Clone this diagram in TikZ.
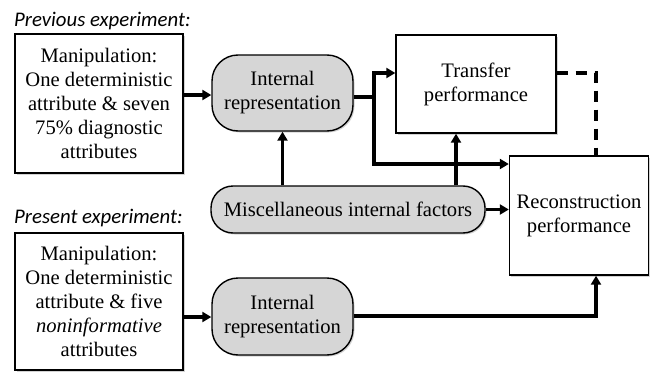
\documentclass[tikz,border=0pt]{standalone}
\usepackage{fontspec}
\setmainfont{Liberation Serif}
\newfontfamily\tms{Liberation Serif}
\newfontfamily\calibri{Carlito}
\usetikzlibrary{arrows.meta,shadows}
\begin{document}
\begin{tikzpicture}[x=1pt,y=-1pt,
  every node/.style={font=\tms\fontsize{20.6}{24}\selectfont, align=center, inner sep=0pt},
  shad/.style={drop shadow={opacity=0.35,shadow xshift=1.5pt,shadow yshift=-1.5pt}},
  sqbox/.style={draw, line width=1.4pt, fill=white, shad},
  rbox/.style={draw, line width=1.4pt, fill=black!16, shad},
  conn/.style={line width=3.2pt, -{Triangle[length=9pt,width=10pt]}},
  lab/.style={font=\calibri\itshape\fontsize{20.8}{24}\selectfont, anchor=base west}]
\useasboundingbox (0,0) rectangle (651,372);

\node[lab] (prevlab) at (14,26) {Previous experiment:};
\node[lab] (preslab) at (14,223) {Present experiment:};

\node[sqbox, minimum width=168pt, minimum height=139pt] (m1) at (99,103.5)
  {Manipulation:\\One deterministic\\attribute \& seven\\75\% diagnostic\\attributes};
\node[rbox, rounded corners=26pt, minimum width=141pt, minimum height=76pt] (ir1) at (282.5,93)
  {Internal\\representation};
\node[sqbox, minimum width=160pt, minimum height=98pt] (tp) at (476,84)
  {Transfer\\performance};
\node[sqbox, minimum width=139pt, minimum height=119pt] (rp) at (579,215.5)
  {Reconstruction\\performance};
\node[rbox, rounded corners=22pt, minimum width=274pt, minimum height=47pt] (misc) at (348,209.5)
  {Miscellaneous internal factors};
\node[sqbox, minimum width=168pt, minimum height=137pt] (m2) at (99,301.5)
  {Manipulation:\\One deterministic\\attribute \& five\\\textit{noninformative}\\attributes};
\node[rbox, rounded corners=26pt, minimum width=141pt, minimum height=77pt] (ir2) at (282.5,316.5)
  {Internal\\representation};

\coordinate (j) at (374,97);
\draw[conn] (m1.east |- 0,95) -- (ir1.west |- 0,95);
\draw[line width=3.2pt] (ir1.east |- j) -- (j);
\draw[conn] (j) -- (374,73) -- (tp.west |- 0,73);
\draw[conn] (j) -- (374,164) -- (rp.west |- 0,164);
\draw[line width=3.2pt, dash pattern=on 11pt off 8pt] (tp.east |- 0,73) -- (596,73) -- (596,0 |- rp.north);
\draw[conn] (misc.north -| 282.5,0) -- (ir1.south);
\draw[conn] (misc.north -| 456,0) -- (tp.south -| 456,0);
\draw[conn] (misc.east) -- (rp.west |- misc.east);
\draw[conn] (m2.east |- 0,317) -- (ir2.west |- 0,317);
\draw[conn] (ir2.east |- 0,316) -- (596,316) -- (596,0 |- rp.south);
\end{tikzpicture}
\end{document}
